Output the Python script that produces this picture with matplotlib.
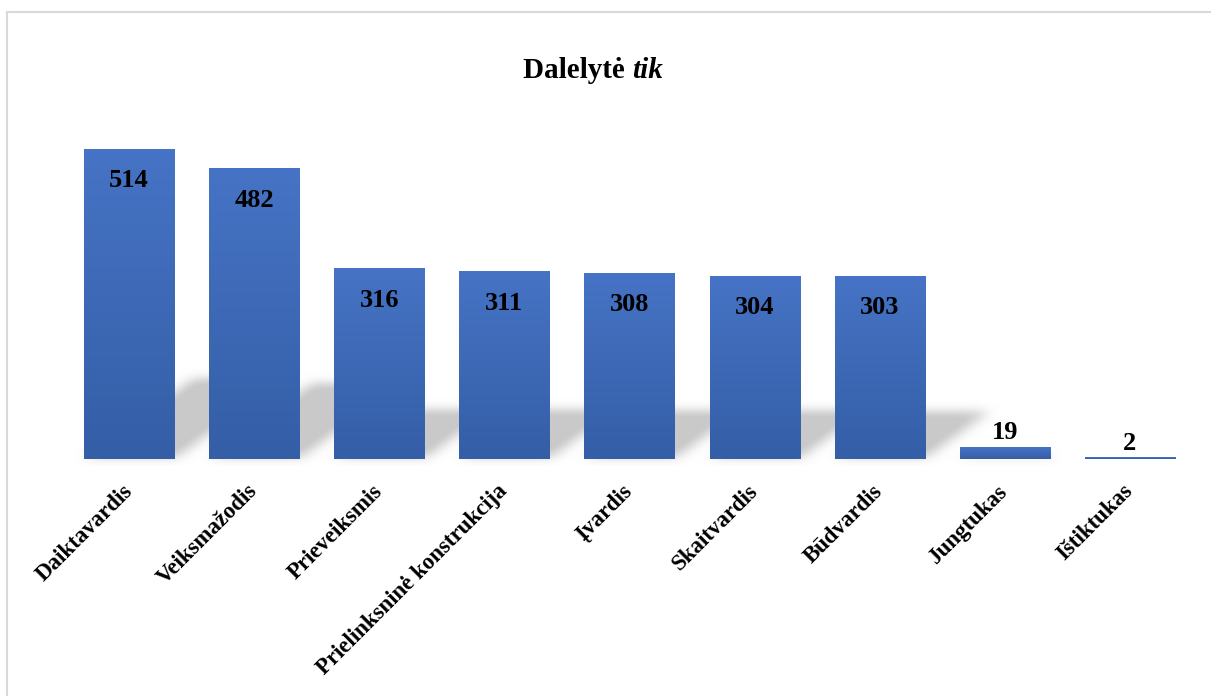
import numpy as np
import matplotlib
matplotlib.use('Agg')
import matplotlib.pyplot as plt
from matplotlib import colors
from matplotlib.patches import Rectangle

plt.rcParams['font.family'] = ['Liberation Serif', 'DejaVu Serif']

# duomenys
categories = ['Daiktavardis', 'Veiksmažodis', 'Prieveiksmis', 'Prielinksninė konstrukcija',
              'Įvardis', 'Skaitvardis', 'Būdvardis', 'Jungtukas', 'Ištiktukas']
values = [514, 482, 316, 311, 308, 304, 303, 19, 2]

W, H = 1211, 696
fig = plt.figure(figsize=(W / 100, H / 100), dpi=100)
ax = fig.add_axes([66.5 / W, 237 / H, 1126 / W, 361 / H])

# remelis
fig.patches.append(Rectangle((7 / W, -0.1), 1.2, (H - 12) / H + 0.1, transform=fig.transFigure,
                             fill=False, edgecolor='#d9d9d9', linewidth=1.5))

bw = 0.72
ymax = 600
x = np.arange(len(values))

# seselis (blurred parallelograms)
nx, ny = 1126, 150
y0, y1 = -12, 230
gx = np.linspace(-0.5, 8.5, nx)
gy = np.linspace(y0, y1, ny)
XX, YY = np.meshgrid(gx, gy)
mask = np.zeros_like(XX)
for i, v in zip(x, values):
    hs = 0.26 * v
    dx = 0.0017 * v
    t = YY / hs
    inside = (YY >= 2) & (YY <= hs) & (XX >= i - bw / 2 + dx * t) & (XX <= i + bw / 2 + dx * t)
    mask[inside] = 1.0

def blur(a, sigma, axis):
    r = int(3 * sigma)
    k = np.exp(-0.5 * (np.arange(-r, r + 1) / sigma) ** 2)
    k /= k.sum()
    return np.apply_along_axis(lambda m: np.convolve(m, k, mode='same'), axis, a)

mask = blur(blur(mask, 7, 1), 5, 0)
shadow = np.zeros((ny, nx, 4))
shadow[..., :3] = 0.79
shadow[..., 3] = np.clip(mask * 1.1, 0, 1)
ax.imshow(shadow, extent=(-0.5, 8.5, y0, y1), origin='lower', aspect='auto',
          interpolation='bilinear', zorder=1, clip_on=False)

# stulpeliai su gradientu
cmap = colors.LinearSegmentedColormap.from_list('g', ['#345ea6', '#4673c5'])
grad = np.linspace(0, 1, 100).reshape(-1, 1)
for i, v in zip(x, values):
    ax.imshow(grad, extent=(i - bw / 2, i + bw / 2, 0, v), origin='lower', aspect='auto',
              cmap=cmap, zorder=2)
    if v > 100:
        ax.annotate(str(v), (i, v), xytext=(0, -22.5), textcoords='offset points',
                    ha='center', va='center', fontsize=19, fontweight='bold', zorder=3)
    else:
        ax.annotate(str(v), (i, v), xytext=(0, 10.5), textcoords='offset points',
                    ha='center', va='center', fontsize=19, fontweight='bold', zorder=3)

ax.set_xlim(-0.5, 8.5)
ax.set_ylim(0, ymax)
ax.set_xticks(x)
ax.set_xticklabels(categories, rotation=45, ha='right', va='center', rotation_mode='anchor',
                   fontsize=16.5, fontweight='bold')
ax.tick_params(axis='x', length=0, pad=21)
ax.set_yticks([])
for s in ax.spines.values():
    s.set_visible(False)

fig.text(632 / W, 1 - 71 / H, 'Dalelytė ', ha='right', va='center', fontsize=21, fontweight='bold')
fig.text(632 / W, 1 - 71 / H, 'tik', ha='left', va='center', fontsize=21, fontweight='bold',
         style='italic')

fig.savefig('out.png', dpi=100)
